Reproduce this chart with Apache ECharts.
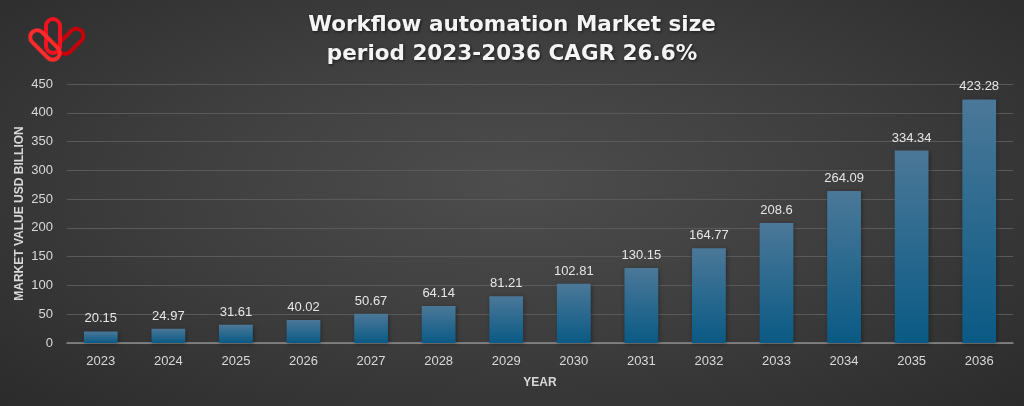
<!DOCTYPE html>
<html><head><meta charset="utf-8">
<script src="https://cdn.jsdelivr.net/npm/echarts@6/dist/echarts.min.js"></script>
<style>
html,body{margin:0;padding:0;width:1024px;height:406px;overflow:hidden;}
body{background:radial-gradient(ellipse at 50% 45%, #4d4d4d 0%, #3f3f3f 45%, #2b2b2b 100%);}
#c{width:1024px;height:406px;}
</style></head><body><div id="c"></div>
<script>
const categories = ['2023','2024','2025','2026','2027','2028','2029','2030','2031','2032','2033','2034','2035','2036'];
const values = [20.15,24.97,31.61,40.02,50.67,64.14,81.21,102.81,130.15,164.77,208.6,264.09,334.34,423.28];
const titleLines = ['Workflow automation Market size','period 2023-2036 CAGR 26.6%'];

const chart = echarts.init(document.getElementById('c'), null, {renderer:'canvas'});
chart.setOption({
  backgroundColor: 'transparent',
  animation: false,
  title: {
    text: titleLines.join('\n'),
    left: 'center', top: 6,
    textStyle: {color:'#f4f4f4', fontSize: 21.5, fontWeight: 'bold', fontFamily: 'DejaVu Sans', lineHeight: 29,
      textShadowColor:'rgba(0,0,0,0.6)', textShadowBlur:3, textShadowOffsetX:1, textShadowOffsetY:1}
  },
  grid: {left: 67, right: 11, top: 84, bottom: 63},
  xAxis: {
    type: 'category', data: categories,
    name: 'YEAR', nameLocation: 'middle', nameGap: 34, nameMoveOverlap: false,
    nameTextStyle: {color:'#d9d9d9', fontWeight:'bold', fontSize: 12, fontFamily:'Liberation Sans'},
    axisLine: {lineStyle: {color:'#8c8c8c', width: 1.5}},
    axisTick: {show:false},
    axisLabel: {color:'#d9d9d9', fontSize: 13, margin: 12, fontFamily:'Liberation Sans'}
  },
  yAxis: {
    type: 'value', min: 0, max: 450, interval: 50,
    name: 'MARKET VALUE USD BILLION', nameLocation: 'middle', nameGap: 41, nameMoveOverlap: false,
    nameTextStyle: {color:'#d9d9d9', fontWeight:'bold', fontSize: 12, fontFamily:'Liberation Sans'},
    axisLine: {show:false}, axisTick: {show:false},
    axisLabel: {color:'#d9d9d9', fontSize: 13, margin: 14, fontFamily:'Liberation Sans'},
    splitLine: {lineStyle: {color:'#5a5a5a', width: 1}}
  },
  series: [{
    type: 'bar', data: values, barWidth: '50%',
    itemStyle: {
      color: new echarts.graphic.LinearGradient(0,0,0,1,[{offset:0,color:'#4b7898'},{offset:1,color:'#0a5a85'}]),
      shadowColor: 'rgba(0,0,0,0.35)', shadowBlur: 4, shadowOffsetX: 1, shadowOffsetY: 1
    },
    label: {show:true, position:'top', distance: 6, color:'#e6e6e6', fontSize: 13, fontFamily:'Liberation Sans'}
  }],
  graphic: [
    {type:'rect', shape:{x:-7, y:-16, width:14, height:30, r:7}, rotation: -Math.PI/4, x:70, y:42,
     style:{fill:'none', stroke:'#c8000a', lineWidth:4}},
    {type:'rect', shape:{x:-7, y:-17, width:14, height:34, r:7}, x:53, y:36,
     style:{fill:'none', stroke:'#f0121e', lineWidth:4}},
    {type:'rect', shape:{x:-7, y:-18, width:14, height:36, r:7}, rotation: Math.PI/4, x:45, y:45,
     style:{fill:'none', stroke:'#ff2a2a', lineWidth:4}}
  ]
});
</script></body></html>
